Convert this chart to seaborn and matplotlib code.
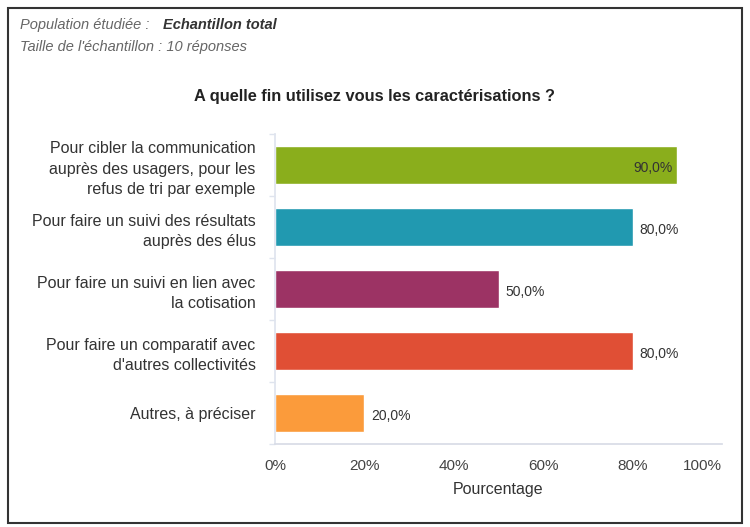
import matplotlib
matplotlib.use("Agg")
import matplotlib.pyplot as plt
import seaborn as sns
import pandas as pd
import numpy as np
from matplotlib.patches import Rectangle

categories = [
    "Pour cibler la communication\nauprès des usagers, pour les\nrefus de tri par exemple",
    "Pour faire un suivi des résultats\nauprès des élus",
    "Pour faire un suivi en lien avec\nla cotisation",
    "Pour faire un comparatif avec\nd'autres collectivités",
    "Autres, à préciser",
]
values = [90.0, 80.0, 50.0, 80.0, 20.0]
colors = ["#8aae1c", "#2199b0", "#9c3364", "#e04f35", "#fb9b3b"]
xticks = [0, 20, 40, 60, 80, 100]
xtick_labels = ["0%", "20%", "40%", "60%", "80%", "100%"]

sns.set_theme(style="white")
plt.rcParams['font.family'] = ['Liberation Sans', 'DejaVu Sans']

df = pd.DataFrame({"cat": categories, "val": values})

fig = plt.figure(figsize=(7.5, 5.27), dpi=100)
ax = fig.add_axes([0.3667, 0.1575, 0.5960, 0.5882])

sns.barplot(data=df, y="cat", x="val", hue="cat", palette=colors,
            legend=False, width=0.6, ax=ax, saturation=1)

ax.set_xlim(0, 100)
ax.set_xticks(xticks)
ax.set_xticklabels(xtick_labels, fontsize=11, color="#444444")
xl = ax.get_xticklabels()
xl[-1].set_horizontalalignment("right")
xl[-1].set_x(101)
ax.set_xlabel("Pourcentage", fontsize=11.5, color="#333333", labelpad=6)
ax.set_ylabel("")
ax.tick_params(axis="y", which="major", length=0, pad=14)
ax.set_yticks(np.arange(-0.5, len(categories), 1.0), minor=True)
ax.tick_params(axis="y", which="minor", length=4, color="#dfe4ee", width=1, left=True)
ax.tick_params(axis="x", length=10, color="#d8dce6", width=1, pad=1)
for lab in ax.get_yticklabels():
    lab.set_fontsize(11.5)
    lab.set_color("#333333")
    lab.set_linespacing(1.45)
    lab.set_horizontalalignment("right")
    lab.set_multialignment("right")

for s in ["top", "right"]:
    ax.spines[s].set_visible(False)
ax.spines["left"].set_color("#dfe4ee")
ax.spines["bottom"].set_color("#d8dce6")

for i, v in enumerate(values):
    txt = f"{v:.1f}%".replace(".", ",")
    if v >= 85:
        ax.text(v - 1.0, i + 0.05, txt, ha="right", va="center", fontsize=10, color="#333333")
    else:
        ax.text(v + 1.5, i + 0.05, txt, ha="left", va="center", fontsize=10, color="#333333")

t1 = fig.text(0.027, 0.952, "Population étudiée :", fontsize=10.5, style="italic",
              color="#666666", ha="left", va="center")
fig.text(0.2173, 0.952, "Echantillon total", fontsize=10.5, style="italic",
         fontweight="bold", color="#333333", ha="left", va="center")
fig.text(0.027, 0.911, "Taille de l'échantillon : 10 réponses", fontsize=10.5, style="italic",
         color="#666666", ha="left", va="center")
fig.text(0.5, 0.816, "A quelle fin utilisez vous les caractérisations ?", fontsize=11.8,
         fontweight="bold", color="#222222", ha="center", va="center")

fig.patches.append(Rectangle((0.011, 0.008), 0.978, 0.977, transform=fig.transFigure,
                             fill=False, edgecolor="#333333", linewidth=1.5))

fig.savefig("out.png", dpi=100)
